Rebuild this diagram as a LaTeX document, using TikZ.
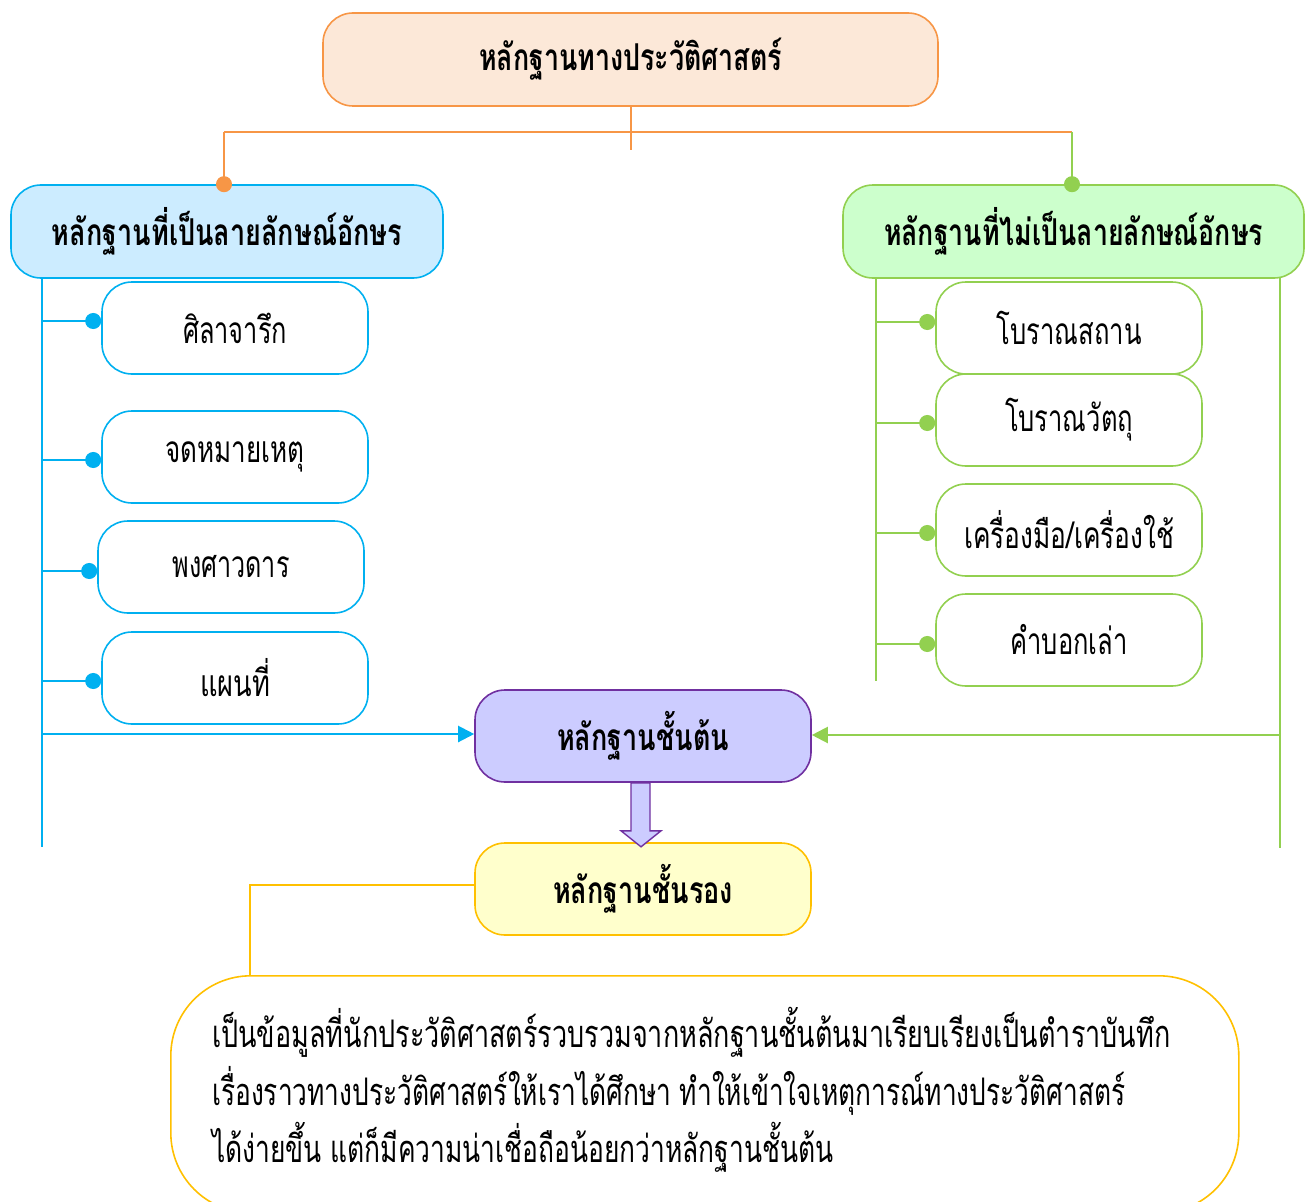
\documentclass[tikz,border=0pt]{standalone}
\usepackage{fontspec}
\setmainfont{Loma}[Script=Thai]
\usetikzlibrary{arrows.meta}
\definecolor{orln}{HTML}{F79646}
\definecolor{orfl}{HTML}{FCE8D8}
\definecolor{blln}{HTML}{00B0F0}
\definecolor{blfl}{HTML}{CCECFF}
\definecolor{grln}{HTML}{92D050}
\definecolor{grfl}{HTML}{CCFFCC}
\definecolor{puln}{HTML}{7030A0}
\definecolor{pufl}{HTML}{CCCCFF}
\definecolor{yeln}{HTML}{FFC000}
\definecolor{yefl}{HTML}{FFFFCC}
\newcommand{\fitw}[2]{\resizebox{#1}{\height}{#2}}
\tikzset{
  rbox/.style={draw, line width=1.6pt, rounded corners=30pt, inner sep=0pt,
    minimum width=266pt, minimum height=92pt, font=\fontsize{37}{44}\selectfont},
  hbox/.style={rbox, font=\fontsize{37}{44}\selectfont\bfseries},
  bline/.style={draw=blln, line width=2.2pt},
  gline/.style={draw=grln, line width=2.2pt},
  oline/.style={draw=orln, line width=2pt},
  dotend/.style={-{Circle[length=16pt]}},
  tri/.style={-{Triangle[length=16pt,width=16pt]}},
  body/.style={anchor=base west, inner sep=0pt, font=\fontsize{38}{44}\selectfont}
}
\begin{document}
\begin{tikzpicture}[x=1pt,y=-1pt]
\useasboundingbox (0,0) rectangle (1305,1201);
% main boxes
\node[hbox, draw=orln, fill=orfl, minimum width=615pt, minimum height=93pt] (top) at (630.5,59.5) {\fitw{303pt}{หลักฐานทางประวัติศาสตร์}};
\node[hbox, draw=blln, fill=blfl, minimum width=432pt, minimum height=93pt] (lb) at (227,231.5) {\fitw{350pt}{หลักฐานที่เป็นลายลักษณ์อักษร}};
\node[hbox, draw=grln, fill=grfl, minimum width=461pt, minimum height=93pt] (rb) at (1073.5,231.5) {\fitw{379pt}{หลักฐานที่ไม่เป็นลายลักษณ์อักษร}};
% left children
\node[rbox, draw=blln, fill=white] (c1) at (235,328) {\fitw{104pt}{ศิลาจารึก}};
\node[rbox, draw=blln, fill=white] (c2) at (235,457) {\fitw{139pt}{จดหมายเหตุ}};
\node[rbox, draw=blln, fill=white] (c3) at (231,567) {\fitw{117pt}{พงศาวดาร}};
\node[rbox, draw=blln, fill=white] (c4) at (235,678) {\fitw{70pt}{แผนที่}};
% right children
\node[rbox, draw=grln, fill=white] (d1) at (1069,328) {\fitw{145pt}{โบราณสถาน}};
\node[rbox, draw=grln, fill=white] (d2) at (1069,420) {\fitw{128pt}{โบราณวัตถุ}};
\node[rbox, draw=grln, fill=white] (d3) at (1069,530) {\fitw{210pt}{เครื่องมือ/เครื่องใช้}};
\node[rbox, draw=grln, fill=white] (d4) at (1069,640) {\fitw{117pt}{คำบอกเล่า}};
% primary / secondary
\node[hbox, draw=puln, fill=pufl, minimum width=336pt] (prim) at (643,736) {\fitw{172pt}{หลักฐานชั้นต้น}};
\node[hbox, draw=yeln, fill=yefl, minimum width=336pt] (sec) at (643,889) {\fitw{180pt}{หลักฐานชั้นรอง}};
% description box
\node[draw=yeln, line width=1.6pt, rounded corners=80pt, fill=white, inner sep=0pt,
  minimum width=1068pt, minimum height=237pt, anchor=north west] (desc) at (170,975) {};
\node[body] (t1) at (212,1047) {\fitw{958pt}{เป็นข้อมูลที่นักประวัติศาสตร์รวบรวมจากหลักฐานชั้นต้นมาเรียบเรียงเป็นตำราบันทึก}};
\node[body] (t2) at (212,1105) {\fitw{913pt}{เรื่องราวทางประวัติศาสตร์ให้เราได้ศึกษา ทำให้เข้าใจเหตุการณ์ทางประวัติศาสตร์}};
\node[body] (t3) at (212,1162) {\fitw{621pt}{ได้ง่ายขึ้น แต่ก็มีความน่าเชื่อถือน้อยกว่าหลักฐานชั้นต้น}};
% coordinates
\coordinate (jl) at (224,132);
\coordinate (jr) at (1072,132);
\coordinate (jd) at (630.5,150);
\coordinate (lt0) at (42,278);
\coordinate (lt1) at (42,847);
\coordinate (rt0) at (876,278);
\coordinate (rt1) at (876,681);
\coordinate (rr0) at (1280,278);
\coordinate (rr1) at (1280,848);
\coordinate (yk) at (250,975);
% top connectors
\draw[oline] (top.south) -- (jd);
\draw[oline] (jl) -- (jr);
\draw[oline, dotend, shorten >=-8pt] (jl) -- (jl |- lb.north);
\draw[gline, line width=2pt, dotend, shorten >=-8pt] (jr) -- (jr |- rb.north);
% left trunk
\draw[bline] (lt0) -- (lt1);
\foreach \c/\s in {c1/7,c2/-3,c3/-4,c4/-3}{
  \coordinate (p) at ([yshift=\s pt]\c.west);
  \draw[bline, dotend] (lt0 |- p) -- (p);}
\coordinate (pa) at ([yshift=2pt]prim.west);
\draw[bline, tri] (lt0 |- pa) -- (pa);
% right trunks
\draw[gline] (rt0) -- (rt1);
\foreach \c/\s in {d1/6,d2/-3,d3/-3,d4/-4}{
  \coordinate (q) at ([yshift=\s pt]\c.west);
  \draw[gline, dotend] (rt0 |- q) -- (q);}
\draw[gline] (rr0) -- (rr1);
\coordinate (pb) at ([yshift=1pt]prim.east);
\draw[gline, tri] (rr0 |- pb) -- (pb);
% secondary link
\coordinate (sw) at ([yshift=4pt]sec.west);
\draw[draw=yeln, line width=1.6pt] (sw) -| (yk);
% block arrow
\draw[draw=puln, fill=pufl, line width=1.4pt, line join=miter]
  ([xshift=-12pt]prim.south) -- ++(0,48) -- ++(-10,0) -- ++(20,16) -- ++(20,-16) -- ++(-11,0) -- ++(0,-48) -- cycle;
\end{tikzpicture}
\end{document}
